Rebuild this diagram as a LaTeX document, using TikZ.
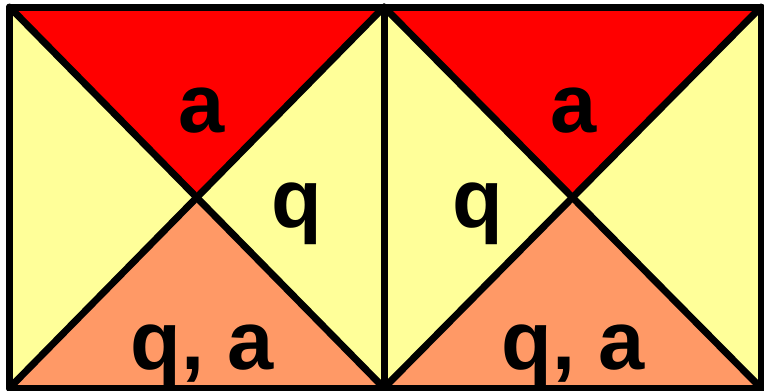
\documentclass[tikz,border=0pt]{standalone}
\usepackage{fontspec}
\setmainfont{Liberation Sans}
\definecolor{tri red}{HTML}{FF0000}
\definecolor{tri yellow}{HTML}{FFFF99}
\definecolor{tri salmon}{HTML}{FF9966}
\begin{document}
\begin{tikzpicture}[x=1pt,y=-1pt,
  edge/.style={draw=black,line width=7pt,line join=round,line cap=round},
  lbl/.style={inner sep=0pt,anchor=base,font=\bfseries\fontsize{83}{83}\selectfont}]
\useasboundingbox (0,0) rectangle (764,391);
% corners
\coordinate (LTL) at (9.5,7);
\coordinate (LTR) at (384,7);
\coordinate (LBL) at (9.5,388);
\coordinate (LBR) at (384,388);
\coordinate (RTR) at (761,7);
\coordinate (RBR) at (761,388);
\coordinate (LC) at (198,198);
\coordinate (RC) at (572.5,198);
% fills
\fill[tri yellow] (LTL) rectangle (RBR);
\fill[tri red] (LTL) -- (LTR) -- (LC) -- cycle;
\fill[tri salmon] (LBL) -- (LBR) -- (LC) -- cycle;
\fill[tri red] (LTR) -- (RTR) -- (RC) -- cycle;
\fill[tri salmon] (LBR) -- (RBR) -- (RC) -- cycle;
% lines
\draw[edge] (LTL) -- (RTR) -- (RBR) -- (LBL) -- cycle;
\draw[edge] (LTR) -- (LBR);
\draw[edge] (LTL) -- (LBR);
\draw[edge] (LTR) -- (LBL);
\draw[edge] (LTR) -- (RBR);
\draw[edge] (RTR) -- (LBR);
% labels
\node[lbl] (a1) at (202,132) {a};
\node[lbl] (q1) at (297,227) {q};
\node[lbl] (qa1) at (202,369) {q, a};
\node[lbl] (a2) at (574,132) {a};
\node[lbl] (q2) at (478,227) {q};
\node[lbl] (qa2) at (573,369) {q, a};
\end{tikzpicture}
\end{document}
